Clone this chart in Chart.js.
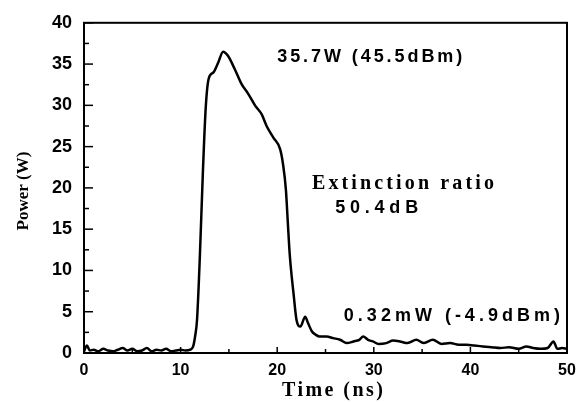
<!DOCTYPE html>
<html>
<head>
<meta charset="utf-8">
<script src="https://cdn.jsdelivr.net/npm/chart.js@4/dist/chart.umd.min.js"></script>
<style>
  html, body { margin: 0; padding: 0; background: #fff; }
  #wrap { width: 585px; height: 402px; }
</style>
</head>
<body>
<div id="wrap"><canvas id="pulseChart"></canvas></div>
<script>
const timeNs = [
  0, 0.3, 0.6, 1, 1.5, 2, 2.5, 3, 3.5, 4, 4.5, 5, 5.5, 6, 6.5, 7, 7.5, 8, 8.5, 9, 9.5, 10, 10.5, 11,
  11.3, 11.5, 11.7, 12.0, 12.3, 12.6, 12.9, 13.4, 13.9, 14.4, 14.9, 15.6, 16.3, 17.0, 17.7, 18.4,
  18.9, 19.6, 20.3, 20.6, 20.9, 21.1, 21.3, 21.7, 22.0, 22.4, 22.9, 23.2, 23.6, 24.0, 24.4, 25.1,
  25.8, 26.5, 27.2, 27.9, 28.5, 28.9, 29.4, 29.9, 30.5, 31.3, 32.0, 32.7, 33.5, 34.4, 35.2, 36.1,
  37.0, 37.9, 38.8, 39.6, 40.4, 41.3, 42.2, 43.1, 44.0, 45.0, 45.8, 46.5, 47.3, 48.0, 48.6, 49.0,
  49.5, 50
];
const powerW = [
  0.2, 0.9, 0.3, 0.4, 0.2, 0.5, 0.3, 0.2, 0.4, 0.6, 0.3, 0.5, 0.2, 0.3, 0.6, 0.2, 0.4, 0.3, 0.5, 0.2, 0.3, 0.4, 0.3, 0.4,
  0.8, 2.0, 4.0, 11.9, 21.7, 29.7, 33.2, 34.0, 35.2, 36.5, 36.0, 34.4, 32.6, 31.4, 30.0, 28.9,
  27.5, 26.1, 24.7, 22.9, 19.8, 15.8, 11.9, 7.1, 4.0, 3.2, 4.4, 3.6, 2.6, 2.2, 2.0, 2.0,
  1.8, 1.6, 1.2, 1.4, 1.6, 2.0, 1.6, 1.4, 1.1, 1.2, 1.5, 1.4, 1.2, 1.6, 1.2, 1.6,
  1.1, 1.2, 1.0, 1.0, 0.9, 0.8, 0.7, 0.6, 0.7, 0.5, 0.8, 0.6, 0.5, 0.6, 1.4, 0.5,
  0.6, 0.5
];

const xTicks = [0, 10, 20, 30, 40, 50];
const yTicks = [0, 5, 10, 15, 20, 25, 30, 35, 40];

// annotation texts with their anchor (ns, W)
const noteTexts = ["35.7W (45.5dBm)", "Extinction ratio", "50.4dB", "0.32mW (-4.9dBm)"];
const noteX = [20.0, 23.6, 26.0, 26.9];
const noteY = [35.8, 20.5, 17.6, 4.5];

const sansBold = 'bold 18px "Liberation Sans", Arial, sans-serif';
const serifNote = 'bold 20px "Liberation Serif", "Times New Roman", serif';

function spacedText(ctx, text, x, y, width) {
  ctx.letterSpacing = '0px';
  const w = ctx.measureText(text).width;
  const sp = Math.max(0, (width - w) / (text.length - 1));
  ctx.letterSpacing = sp.toFixed(2) + 'px';
  ctx.fillText(text, x, y);
  ctx.letterSpacing = '0px';
}

// frame + inward ticks + titles + notes
const framePlugin = {
  id: 'frame',
  afterDraw(chart) {
    const ctx = chart.ctx;
    const a = chart.chartArea;
    const xs = chart.scales.x, ys = chart.scales.y;
    ctx.save();
    ctx.strokeStyle = '#000';
    ctx.lineWidth = 2;
    ctx.strokeRect(a.left, a.top, a.right - a.left, a.bottom - a.top);

    ctx.lineWidth = 1.5;
    for (let v = 0; v <= 40; v += 2.5) {
      const py = ys.getPixelForValue(v);
      const len = v % 5 === 0 ? 9 : 5;
      ctx.beginPath(); ctx.moveTo(a.left, py); ctx.lineTo(a.left + len, py); ctx.stroke();
    }
    for (let v = 0; v <= 50; v += 5) {
      const px = xs.getPixelForValue(v);
      const len = v % 10 === 0 ? 6 : 4;
      ctx.beginPath(); ctx.moveTo(px, a.bottom); ctx.lineTo(px, a.bottom - len); ctx.stroke();
    }

    ctx.fillStyle = '#000';
    ctx.textBaseline = 'middle';
    // axis titles
    ctx.font = 'bold 20px "Liberation Serif", "Times New Roman", serif';
    ctx.textAlign = 'left';
    spacedText(ctx, 'Time (ns)', 282, 391, 101);
    ctx.textAlign = 'center';
    ctx.translate(24, 191);
    ctx.rotate(-Math.PI / 2);
    ctx.font = 'bold 17px "Liberation Serif", "Times New Roman", serif';
    ctx.fillText('Power (W)', 0, 0);
    ctx.restore();

    // notes
    const widths = [185, 182, 83, 216];
    const fonts = [sansBold, serifNote, sansBold, sansBold];
    ctx.save();
    ctx.fillStyle = '#000';
    ctx.textBaseline = 'middle';
    ctx.textAlign = 'left';
    noteTexts.forEach((t, i) => {
      ctx.font = fonts[i];
      spacedText(ctx, t, xs.getPixelForValue(noteX[i]), ys.getPixelForValue(noteY[i]), widths[i]);
    });
    ctx.restore();
  }
};

new Chart(document.getElementById('pulseChart'), {
  type: 'line',
  data: {
    datasets: [{
      data: timeNs.map((t, i) => ({ x: t, y: powerW[i] })),
      borderColor: '#000',
      borderWidth: 2.5,
      pointRadius: 0,
      cubicInterpolationMode: 'monotone',
      fill: false
    }]
  },
  options: {
    responsive: true,
    maintainAspectRatio: false,
    animation: false,
    layout: { padding: { left: 0, top: 16, right: 18, bottom: 0 } },
    plugins: { legend: { display: false }, tooltip: { enabled: false } },
    scales: {
      x: {
        type: 'linear',
        min: 0, max: 50,
        afterFit(s) { s.height = 49; },
        afterBuildTicks(s) { s.ticks = xTicks.map(v => ({ value: v })); },
        grid: { display: false, drawTicks: false },
        border: { display: false },
        ticks: { color: '#000', padding: 8, font: { family: '"Liberation Sans", Arial, sans-serif', size: 16, weight: 'bold' } }
      },
      y: {
        min: 0, max: 40,
        afterFit(s) { s.width = 84; },
        afterBuildTicks(s) { s.ticks = yTicks.map(v => ({ value: v })); },
        grid: { display: false, drawTicks: false },
        border: { display: false },
        ticks: { color: '#000', padding: 12, font: { family: '"Liberation Sans", Arial, sans-serif', size: 18, weight: 'bold' } }
      }
    }
  },
  plugins: [framePlugin]
});
</script>
</body>
</html>
